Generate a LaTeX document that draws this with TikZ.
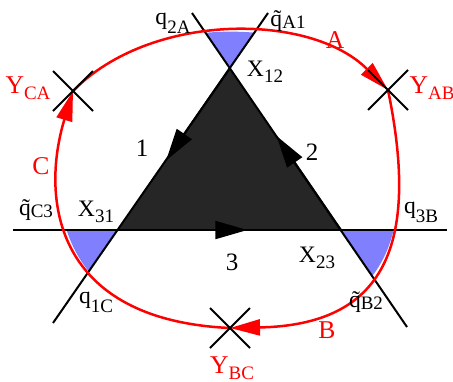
\documentclass[tikz,border=0pt]{standalone}
\usepackage{fontspec}
\setmainfont{Liberation Serif}
\usetikzlibrary{arrows.meta,calc}
\definecolor{wedgeblue}{RGB}{128,128,255}
\definecolor{trigray}{RGB}{38,38,38}
\newcommand{\subs}[2][3pt]{\raisebox{-#1}{\fontsize{9.5}{10}\selectfont #2}}
\newcommand{\ysubs}[1]{\raisebox{-3pt}{\fontsize{9.5}{10}\selectfont #1}}

\begin{document}
\begin{tikzpicture}[x=0.5pt, y=-0.5pt, line width=1pt,
  lab/.style={inner sep=0pt, font=\fontsize{11.8}{13}\selectfont},
  ylab/.style={inner sep=0pt, text=red, font=\fontsize{12.8}{14}\selectfont},
  numlab/.style={inner sep=0pt, font=\fontsize{12.5}{14}\selectfont},
  redarrow/.style={red, line width=1.25pt, -{Triangle[length=15pt, width=8pt]}},
  edgearrow/.style={-{Triangle[length=16pt, width=9pt]}}]
  \useasboundingbox (0,0) rectangle (453,381);

  % triangle corners and line ends
  \coordinate (X12) at (230,68);
  \coordinate (X31) at (118,230);
  \coordinate (X23) at (341,230);
  \coordinate (e1a) at (268,13);
  \coordinate (e1b) at (53,323);
  \coordinate (e2a) at (192,13);
  \coordinate (e2b) at (407,327);
  \coordinate (e3a) at (13,230);
  \coordinate (e3b) at (447,230);
  \coordinate (YCA) at (73,91);
  \coordinate (YAB) at (388,90);
  \coordinate (YBC) at (230,328);

  % blue wedges inside the loop
  \begin{scope}
    \clip (YCA) .. controls (150,12) and (310,12) .. (YAB)
      .. controls (420,245) and (385,325) .. (YBC)
      .. controls (55,320) and (40,200) .. (YCA) -- cycle;
    \fill[wedgeblue] (X12) -- (e2a) -- (e1a) -- cycle;
    \fill[wedgeblue] (X31) -- (e3a) -- (e1b) -- cycle;
    \fill[wedgeblue] (X23) -- (e3b) -- (e2b) -- cycle;
  \end{scope}

  \fill[trigray] (X12) -- (X31) -- (X23) -- cycle;
  \draw (e1a) -- (e1b);
  \draw (e2a) -- (e2b);
  \draw (e3a) -- (e3b);
  \draw[edgearrow] (X12) -- ($(X12)!0.57!(X31)$);
  \draw[edgearrow] (X23) -- ($(X23)!0.58!(X12)$);
  \draw[edgearrow] (X31) -- ($(X31)!0.58!(X23)$);

  % red loop
  \draw[redarrow] (YCA) .. controls (150,12) and (310,12) .. (YAB);
  \draw[redarrow] (YAB) .. controls (420,245) and (385,325) .. (YBC);
  \draw[redarrow] (YBC) .. controls (55,320) and (40,200) .. (YCA);
  \foreach \p in {YCA,YAB,YBC} {
    \draw ($(\p)+(-20,-20)$) -- ($(\p)+(20,20)$);
    \draw ($(\p)+(-20,20)$) -- ($(\p)+(20,-20)$);
  }

  % labels
  \node[lab] (lq2A) at (173,23) {q\subs[4.5pt]{2A}};
  \node[lab] (lqA1) at (288,21) {\~{q}\subs[1pt]{A1}};
  \node[lab] (lX12) at (265,72) {X\subs{12}};
  \node[lab] (lX31) at (96,212) {X\subs{31}};
  \node[lab] (lqC3) at (36,210) {\~{q}\subs[1pt]{C3}};
  \node[lab] (lq1C) at (96,302) {q\subs[4.5pt]{1C}};
  \node[lab] (lX23) at (317,258) {X\subs{23}};
  \node[lab] (lq3B) at (421,212) {q\subs[4.5pt]{3B}};
  \node[lab] (lqB2) at (366,302) {\~{q}\subs[1pt]{B2}};
  \node[numlab] (n1) at (142,148) {1};
  \node[numlab] (n2) at (312,152) {2};
  \node[numlab] (n3) at (232,262) {3};
  \node[ylab] (lYCA) at (28,88) {Y\ysubs{CA}};
  \node[ylab] (lYAB) at (432,88) {Y\ysubs{AB}};
  \node[ylab] (lYBC) at (232,368) {Y\ysubs{BC}};
  \node[ylab] (lA) at (335,40) {A};
  \node[ylab] (lB) at (327,330) {B};
  \node[ylab] (lC) at (41,166) {C};
\end{tikzpicture}
\end{document}
